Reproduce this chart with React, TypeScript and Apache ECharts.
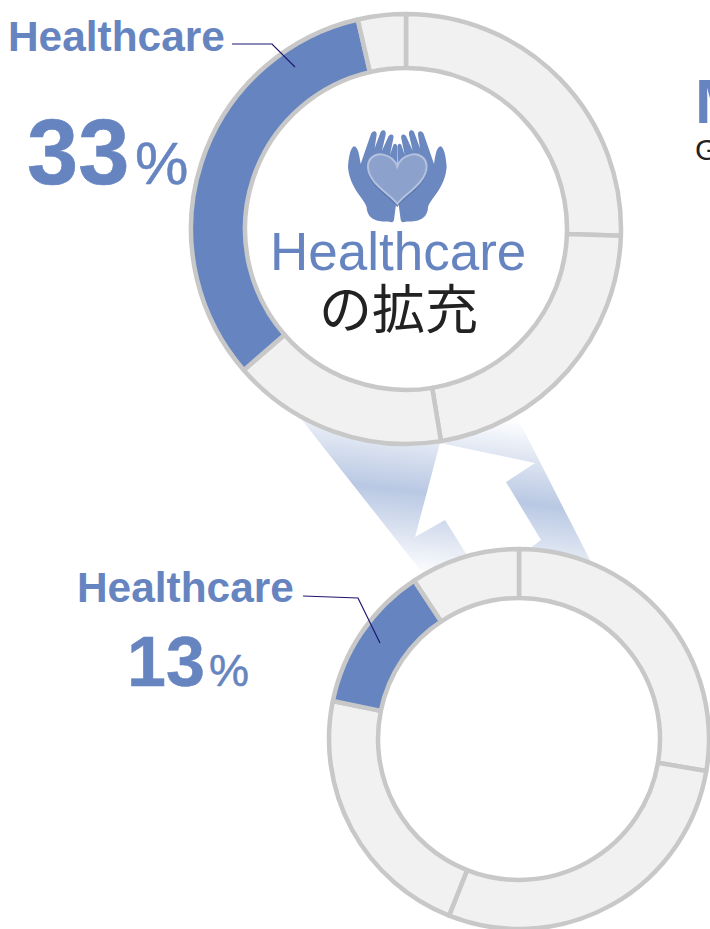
import React, { useEffect, useRef } from "react";
import * as echarts from "echarts";

const upperNames = ["a", "b", "c", "Healthcare", "d"];
const upperValues = [25.5, 21.9, 16.2, 32.8, 3.6];
const lowerNames = ["a", "b", "c", "Healthcare", "d"];
const lowerValues = [27.7, 28.3, 22.2, 12.5, 9.3];
const sectorLabel = "Healthcare";

const BLUE = "#6685c0";
const GREY = "#f1f1f1";
const EDGE = "#c8c8c8";

const handPath =
  "M24 140C26 110 32 82 42 79C54 80 58 105 62 132L92 45C96 30 112 30 110 45L104 85L122 36C128 26 140 30 137 45L126 92L146 48C152 40 164 42 160 56L150 105L160 75C165 68 172 72 172 82L170 240L162 300C158 312 150 305 140 305C110 305 82 298 80 262C76 240 28 205 24 140Z";
const heartPath =
  "M172 252C150 222 84 190 84 140C84 112 108 100 130 104C150 108 166 122 172 140C178 122 194 108 214 104C236 100 260 112 260 140C260 190 194 222 172 252Z";

echarts.graphic.registerShape("hand", echarts.graphic.extendPath(handPath, {}) as any);
echarts.graphic.registerShape("heart", echarts.graphic.extendPath(heartPath, {}) as any);

const beamFill = () => ({
  type: "linear",
  x: 439,
  y: 410,
  x2: 421,
  y2: 576,
  global: true,
  colorStops: [
    { offset: 0, color: "#ffffff" },
    { offset: 0.5, color: "#b9c8e3" },
    { offset: 1, color: "#ffffff" },
  ],
});

function pie(values: number[], names: string[], center: number[], radius: number[]) {
  return {
    type: "pie",
    center,
    radius,
    startAngle: 90,
    clockwise: true,
    silent: true,
    z: 2,
    label: { show: false },
    labelLine: { show: false },
    itemStyle: { borderColor: EDGE, borderWidth: 4.5, color: GREY },
    data: values.map((value, i) => ({
      value,
      name: names[i],
      itemStyle: { color: names[i] === sectorLabel ? BLUE : GREY },
    })),
  };
}

const label = (text: string, x: number, baseline: number, size: number, color: string, weight = "normal", outline = 0) => ({
  type: "text",
  x,
  y: baseline - 0.35 * size,
  z: 10,
  style: {
    text,
    fill: color,
    stroke: outline ? color : undefined,
    lineWidth: outline,
    font: `${weight} ${size}px "Liberation Sans", "Noto Sans CJK JP", sans-serif`,
    verticalAlign: "middle",
    align: "left",
  },
});

export default function App() {
  const ref = useRef<HTMLDivElement>(null);
  useEffect(() => {
    const chart = echarts.init(ref.current!, undefined, { renderer: "svg" });
    chart.setOption({
      animation: false,
      backgroundColor: "#ffffff",
      series: [
        pie(upperValues, upperNames, [406, 229], [161, 215]),
        pie(lowerValues, lowerNames, [519, 739], [141, 190]),
      ],
      graphic: [
        {
          type: "polygon",
          z: 0,
          shape: { points: [[298, 415], [440, 443], [415, 537], [445, 520], [470, 560], [424, 575]] },
          style: { fill: beamFill() },
        },
        {
          type: "polygon",
          z: 0,
          shape: { points: [[516, 415], [440, 443], [535, 463], [506, 482], [541, 540], [525, 552], [592, 564]] },
          style: { fill: beamFill() },
        },
        { type: "hand", x: 340, y: 120, scaleX: 1 / 3, scaleY: 1 / 3, z: 6, style: { fill: "#6c88c1" } },
        { type: "hand", x: 340 + 344 / 3, y: 120, scaleX: -1 / 3, scaleY: 1 / 3, z: 6, style: { fill: "#6c88c1" } },
        { type: "heart", x: 340, y: 123, scaleX: 1 / 3, scaleY: 1 / 3, z: 7, style: { fill: "#5874b0" } },
        { type: "heart", x: 340, y: 120, scaleX: 1 / 3, scaleY: 1 / 3, z: 8, style: { fill: "#8ca2cc", stroke: "#b4c2de", lineWidth: 6 } },
        label("Healthcare", 270, 270, 53, BLUE),
        label("の拡充", 319, 329, 53, "#222222"),
        label("Healthcare", 8, 51, 42.4, BLUE, "bold"),
        label("33", 27, 184, 92, BLUE, "bold", 0.6),
        label("%", 135, 184, 60, BLUE, "normal", 0.5),
        label("Healthcare", 77, 602, 42.4, BLUE, "bold"),
        label("13", 127, 686, 70, BLUE, "bold", 0.5),
        label("%", 209, 686, 45, BLUE, "normal", 0.5),
        label("M", 695, 123, 63, BLUE, "bold"),
        label("G", 695, 160, 30, "#222222"),
        {
          type: "polyline",
          z: 11,
          shape: { points: [[232, 44], [272, 44], [295, 67]] },
          style: { stroke: "#1f1670", lineWidth: 1.2, fill: "none" },
        },
        {
          type: "polyline",
          z: 11,
          shape: { points: [[303, 596], [358, 598], [380, 643]] },
          style: { stroke: "#1f1670", lineWidth: 1.2, fill: "none" },
        },
      ],
    });
    return () => chart.dispose();
  }, []);
  return <div ref={ref} style={{ position: "absolute", left: 0, top: 0, width: 710, height: 929 }} />;
}
